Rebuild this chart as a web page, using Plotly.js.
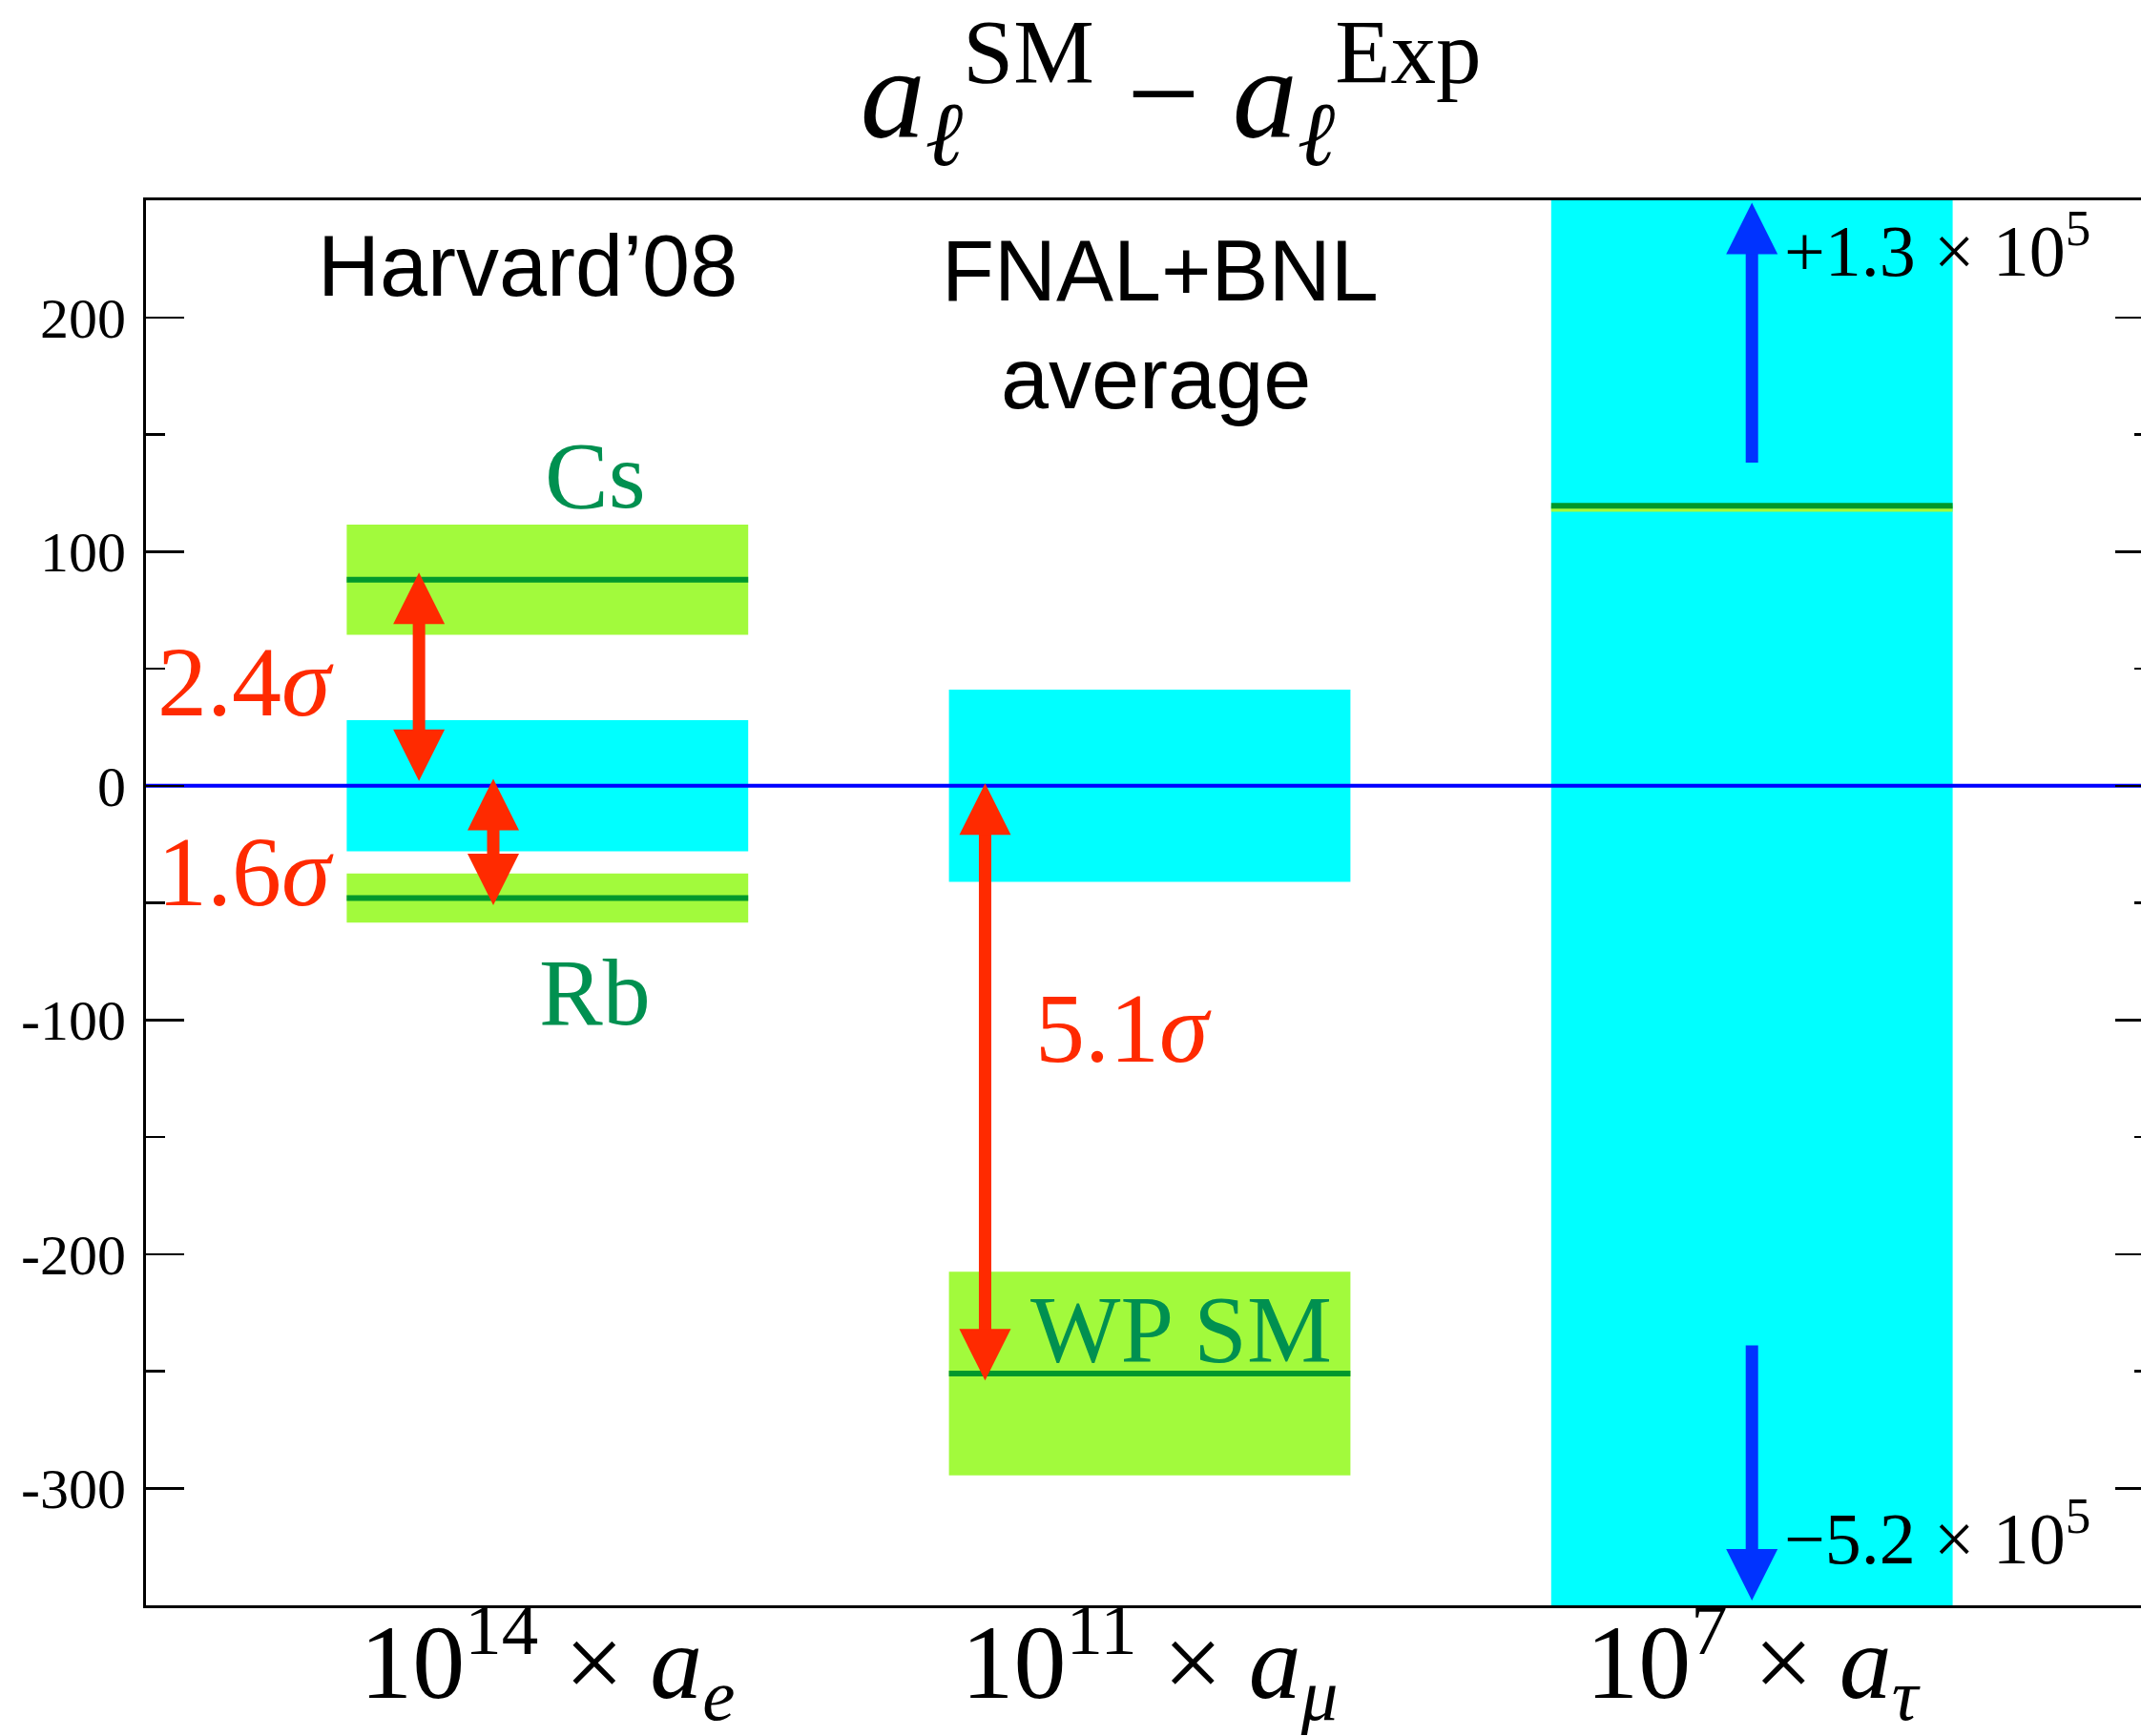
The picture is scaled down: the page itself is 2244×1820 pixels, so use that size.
<!DOCTYPE html>
<html>
<head>
<meta charset="utf-8">
<script src="https://cdn.plot.ly/plotly-3.0.1.min.js"></script>
<style>
html, body { margin: 0; padding: 0; overflow: hidden; background: #ffffff; }
#chart { width: 2260px; height: 1820px; }
</style>
</head>
<body>
<div id="chart"></div>
<script>
// ---------------- data ----------------
const categories = ['electron', 'muon', 'tau'];
const categoryX = [3, 6, 9];
const categoryTickLabels = [
  '10<sup>14</sup> × <i>a</i><sub><i>e</i></sub>',
  '10<sup>11</sup> × <i>a</i><sub><i>μ</i></sub>',
  '10<sup>7</sup> × <i>a</i><sub><i>τ</i></sub>'
];

// experimental uncertainty bands (cyan), in units of the scaled a_l
const expLow = [-28, -41, -520000];
const expHigh = [28, 41, 130000];

// SM predictions (green band + central line)
const smNames = ['Cs', 'Rb', 'WP SM', 'SM τ'];
const smX = [3, 3, 6, 9];
const smValue = [88, -48, -251, 119.6];
const smLow = [64.5, -58.5, -294.5, 117];
const smHigh = [111.5, -37.5, -207.5, 119.6];

// tension arrows (red, double headed)
const tensionLabels = ['2.4σ', '1.6σ', '5.1σ'];
const tensionX = [2.36, 2.73, 5.18];
const tensionTop = [91, 3, 1];
const tensionBottom = [2, -51, -254];

// tau bound arrows (blue, single headed)
const tauArrowLabels = ['+1.3 × 10<sup>5</sup>', '−5.2 × 10<sup>5</sup>'];
const tauArrowX = [9, 9];
const tauArrowTail = [138, -239];
const tauArrowTip = [249, -348];

// y axis ticks
const yTickVals = [200, 100, 0, -100, -200, -300];
const yTickText = ['200', '100', '0', '-100', '-200', '-300'];

// ---------------- layout constants ----------------
const W = 2260, H = 1820;
const M = {l: 153, r: 3, t: 210, b: 137};
const xRange = [1, 11];
const yRange = [-350, 250];
const bandW = 2;
const plotH = H - M.t - M.b;
const unitsPerPx = (yRange[1] - yRange[0]) / plotH;
const headPx = 54;
const headU = headPx * unitsPerPx;

const SERIF = 'Liberation Serif, Times New Roman, serif';
const SANS = 'Liberation Sans, Arial, Helvetica, sans-serif';
const RED = '#ff2a00';
const BLUE = '#0033ff';
const GREEN_TXT = '#009050';

const traces = [];

// cyan experimental bands
traces.push({
  type: 'bar', x: categoryX, base: expLow,
  y: expHigh.map((h, i) => h - expLow[i]),
  width: bandW, marker: {color: '#00ffff', line: {width: 0}},
  hoverinfo: 'skip', showlegend: false
});
// green SM bands
traces.push({
  type: 'bar', x: smX, base: smLow,
  y: smHigh.map((h, i) => h - smLow[i]),
  width: bandW, marker: {color: '#a2fa3c', line: {width: 0}},
  hoverinfo: 'skip', showlegend: false
});
// SM central lines
const lx = [], ly = [];
smX.forEach((c, i) => { lx.push(c - bandW / 2, c + bandW / 2, null); ly.push(smValue[i], smValue[i], null); });
traces.push({type: 'scatter', mode: 'lines', x: lx, y: ly,
  line: {color: '#00982c', width: 6}, hoverinfo: 'skip', showlegend: false});
// zero line
traces.push({type: 'scatter', mode: 'lines', x: xRange, y: [0, 0],
  line: {color: '#0000ff', width: 4}, hoverinfo: 'skip', showlegend: false});

// red double arrows
tensionX.forEach((x, i) => {
  traces.push({type: 'scatter', mode: 'lines', x: [x, x],
    y: [tensionTop[i] - headU * 0.95, tensionBottom[i] + headU * 0.95],
    line: {color: RED, width: 13}, hoverinfo: 'skip', showlegend: false});
  traces.push({type: 'scatter', mode: 'markers', x: [x, x],
    y: [tensionTop[i], tensionBottom[i]],
    marker: {symbol: ['arrow-up', 'arrow-down'], size: headPx, color: RED, line: {width: 0}},
    hoverinfo: 'skip', showlegend: false});
});
// blue single arrows
tauArrowX.forEach((x, i) => {
  const up = tauArrowTip[i] > tauArrowTail[i];
  traces.push({type: 'scatter', mode: 'lines', x: [x, x],
    y: [tauArrowTail[i], tauArrowTip[i] + (up ? -1 : 1) * headU * 0.95],
    line: {color: BLUE, width: 13}, hoverinfo: 'skip', showlegend: false});
  traces.push({type: 'scatter', mode: 'markers', x: [x], y: [tauArrowTip[i]],
    marker: {symbol: up ? 'arrow-up' : 'arrow-down', size: headPx, color: BLUE, line: {width: 0}},
    hoverinfo: 'skip', showlegend: false});
});

function ann(text, x, y, font, opts) {
  return Object.assign({text: text, x: x, y: y, xref: 'x', yref: 'y', showarrow: false,
    xanchor: 'center', yanchor: 'middle', font: font}, opts || {});
}
const fSans = {family: SANS, size: 90, color: '#000000'};
const fGreen = {family: SERIF, size: 100, color: GREEN_TXT};
const fRed = {family: SERIF, size: 104, color: RED};
const fBlack = {family: SERIF, size: 76, color: '#000000'};

const annotations = [
  ann("Harvard’08", 2.90, 222, fSans),
  ann('FNAL+BNL', 6.05, 220, fSans),
  ann('average', 6.03, 174, fSans),
  ann(smNames[0], 3.24, 132.4, fGreen),
  ann(smNames[1], 3.236, -88.4, fGreen),
  ann(smNames[2], 6.157, -232, fGreen),
  ann(tensionLabels[0].replace('σ', '<i>σ</i>'), 1.944, 44.6, fRed, {xanchor: 'right'}),
  ann(tensionLabels[1].replace('σ', '<i>σ</i>'), 1.944, -36.5, fRed, {xanchor: 'right'}),
  ann(tensionLabels[2].replace('σ', '<i>σ</i>'), 5.87, -103.5, fRed),
  ann(tauArrowLabels[0], 9.15, 230.8, fBlack, {xanchor: 'left'}),
  ann(tauArrowLabels[1], 9.15, -319.3, fBlack, {xanchor: 'left'})
];

const layout = {
  width: W, height: H,
  margin: M,
  paper_bgcolor: '#ffffff', plot_bgcolor: '#ffffff',
  showlegend: false,
  barmode: 'overlay',
  title: {
    text: '<i>a</i><sub><i>ℓ</i></sub><sup>SM</sup> − <i>a</i><sub><i>ℓ</i></sub><sup>Exp</sup>',
    font: {family: SERIF, size: 136, color: '#000000'},
    x: 0.543, xref: 'container', xanchor: 'center',
    y: 0.947, yref: 'container', yanchor: 'middle'
  },
  xaxis: {
    range: xRange, showgrid: false, zeroline: false,
    showline: true, linecolor: '#000000', linewidth: 3, mirror: true,
    ticks: '', tickmode: 'array', tickvals: categoryX, ticktext: categoryTickLabels,
    tickfont: {family: SERIF, size: 110, color: '#000000'},
    ticklabelstandoff: -38,
    layer: 'above traces', fixedrange: true
  },
  yaxis: {
    range: yRange, showgrid: false, zeroline: false,
    showline: true, linecolor: '#000000', linewidth: 3, mirror: 'ticks',
    ticks: 'inside', ticklen: 40, tickwidth: 2.5, tickcolor: '#000000',
    tickmode: 'array', tickvals: yTickVals, ticktext: yTickText,
    tickfont: {family: SERIF, size: 60, color: '#000000'},
    ticklabelstandoff: 6,
    minor: {ticks: 'inside', ticklen: 20, tickwidth: 2.5, tickcolor: '#000000', tick0: 0, dtick: 50},
    layer: 'above traces', fixedrange: true
  },
  annotations: annotations
};

Plotly.newPlot('chart', traces, layout, {staticPlot: true, displayModeBar: false});
</script>
</body>
</html>
